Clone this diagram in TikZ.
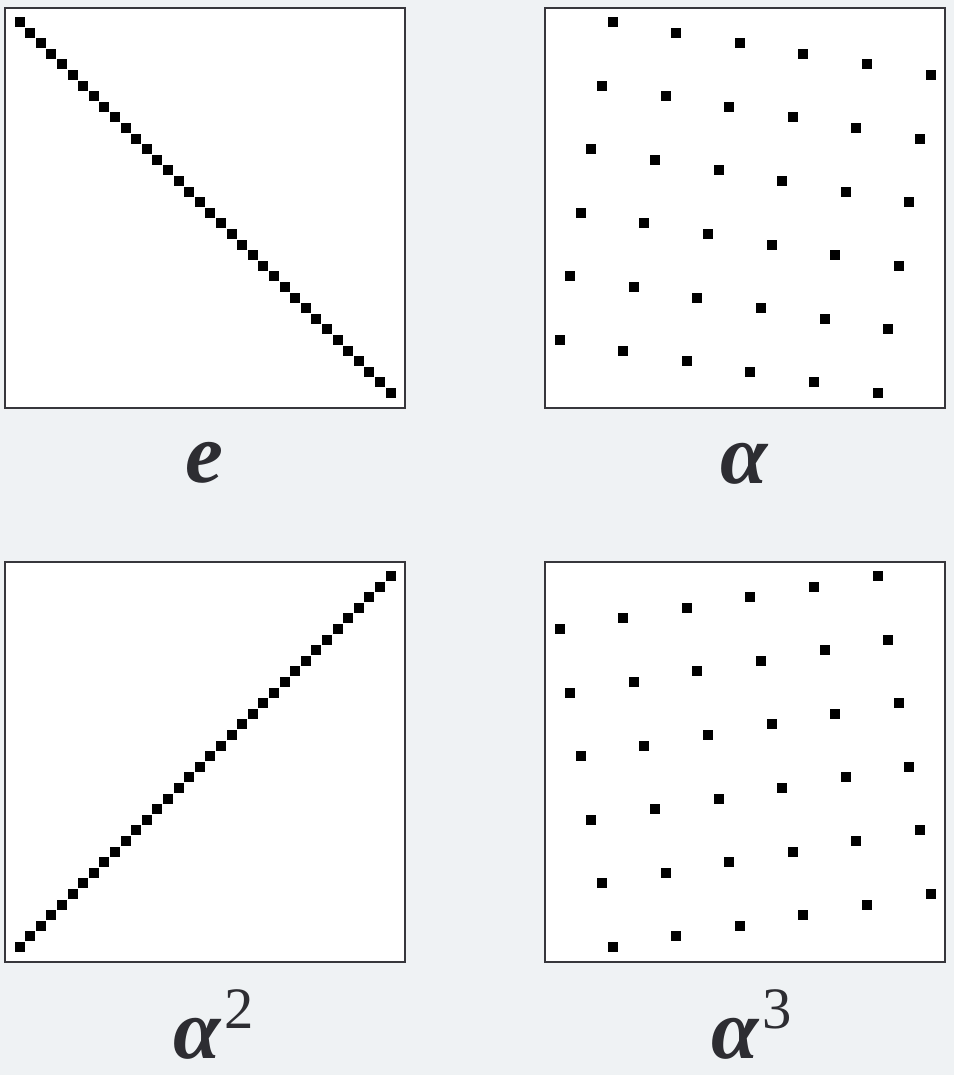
\documentclass[tikz,border=0pt]{standalone}
\usepackage{fontspec}
\setmainfont{Liberation Serif}
\usetikzlibrary{positioning}

\definecolor{bgpanel}{RGB}{239,242,244}
\definecolor{framegray}{RGB}{55,55,60}
\definecolor{inkgray}{RGB}{45,45,50}

\begin{document}
\begin{tikzpicture}[
      x=0.75pt, y=-0.75pt,
      panel/.style={draw=framegray, line width=2.1pt, fill=white, minimum size=300pt, inner sep=0pt},
      dot/.style={fill=black},
      lbl/.style={text=inkgray, anchor=base, inner sep=0pt, text depth=0pt, font=\fontsize{64}{64}\selectfont\bfseries\itshape},
    ]
    % background
    \fill [bgpanel] (0,0) rectangle (954,1075);
    \useasboundingbox (0,0) rectangle (954,1075);

    % the four panels
    \node (pe) [panel] at (205,208) {};
    \node (pa) [panel] at (745,208) {};
    \node (pa2) [panel] at (205,762) {};
    \node (pa3) [panel] at (745,762) {};

    % permutation dots: row i goes to column (m*i mod 37)
    \foreach \px/\py/\mult in {5/8/1, 545/8/6, 5/562/36, 545/562/31} {
      \foreach \i in {1,...,36} {
        \pgfmathtruncatemacro{\j}{mod(\mult*\i,37)}
        \fill [dot] (\px+9.5+10.6*\j-10.6, \py+9+10.6*\i-10.6) rectangle +(10,10);
      }
    }

    % labels
    \node (le) [lbl] at (204,482) {e};
    \node (la) [lbl] at (744,483) {α};
    \node (la2) [lbl] at (214,1058) {α\hspace{3pt}\raisebox{22pt}{\fontsize{44}{44}\selectfont\upshape\mdseries 2}};
    \node (la3) [lbl] at (752,1058) {α\hspace{3pt}\raisebox{22pt}{\fontsize{44}{44}\selectfont\upshape\mdseries 3}};
  \end{tikzpicture}
\end{document}
